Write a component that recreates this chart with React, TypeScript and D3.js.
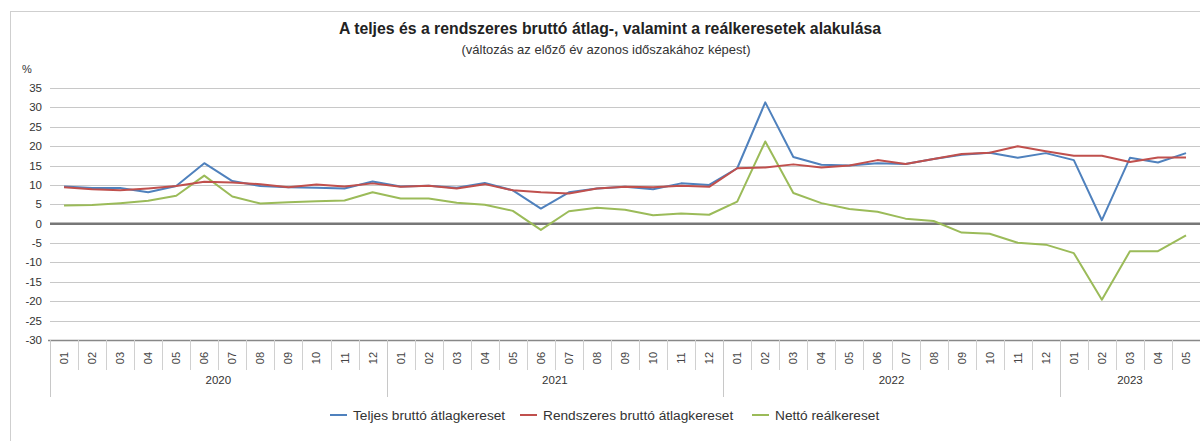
import React, { useEffect, useRef } from 'react'
import * as d3 from 'd3'

const years = ['2020', '2021', '2022', '2023']
const monthsPerYear = [12, 12, 12, 5]
const monthLabels = years.flatMap((y, i) =>
  d3.range(monthsPerYear[i]).map(m => String(m + 1).padStart(2, '0')))

const teljes = [
  9.6, 9.2, 9.2, 8.1, 9.7, 15.6, 11.0, 9.7, 9.4, 9.3, 9.1, 10.9,
  9.6, 9.8, 9.3, 10.5, 8.6, 3.9, 8.1, 9.1, 9.5, 8.9, 10.4, 10.0,
  14.3, 31.3, 17.2, 15.2, 15.0, 15.6, 15.4, 16.7, 17.8, 18.3, 17.0, 18.2,
  16.4, 0.9, 17.0, 15.8, 18.2
]
const rendszeres = [
  9.4, 8.9, 8.6, 9.1, 9.7, 10.8, 10.6, 10.2, 9.4, 10.1, 9.6, 10.4,
  9.5, 9.8, 9.1, 10.2, 8.6, 8.1, 7.8, 9.1, 9.5, 9.4, 9.8, 9.5,
  14.3, 14.5, 15.3, 14.5, 15.0, 16.4, 15.4, 16.7, 18.0, 18.3, 20.0, 18.7,
  17.5, 17.5, 15.9, 17.1, 17.1
]
const netto = [
  4.7, 4.8, 5.3, 5.9, 7.2, 12.4, 7.0, 5.2, 5.5, 5.8, 6.0, 8.1,
  6.5, 6.5, 5.4, 4.9, 3.3, -1.6, 3.2, 4.1, 3.6, 2.2, 2.6, 2.3,
  5.7, 21.2, 7.9, 5.3, 3.8, 3.1, 1.3, 0.7, -2.3, -2.6, -4.9, -5.4,
  -7.6, -19.6, -7.1, -7.1, -3.0
]
const yTicks = d3.range(-30, 36, 5)

const seriesNames = ['Teljes bruttó átlagkereset', 'Rendszeres bruttó átlagkereset', 'Nettó reálkereset']
const seriesColors = ['#4f81bd', '#c0504d', '#9bbb59']

export default function App() {
  const svgRef = useRef<SVGSVGElement>(null)
  const width = 1200
  const height = 441

  useEffect(() => {
    if (!svgRef.current) return
    const svg = d3.select(svgRef.current)
    svg.selectAll('*').remove()

    const font = '"Liberation Sans", Arial, sans-serif'
    const left = 50
    const n = monthLabels.length
    const step = 28.05

    // outer frame
    svg.append('rect')
      .attr('x', 10.5).attr('y', 11.5)
      .attr('width', 1300).attr('height', 500)
      .attr('fill', 'white')
      .attr('stroke', '#cfcfcf')

    // titles
    svg.append('text')
      .attr('x', 610).attr('y', 33.5)
      .attr('text-anchor', 'middle')
      .attr('font-family', font)
      .attr('font-size', '15.8px')
      .attr('font-weight', 'bold')
      .attr('fill', '#222')
      .text('A teljes és a rendszeres bruttó átlag-, valamint a reálkeresetek alakulása')

    svg.append('text')
      .attr('x', 606).attr('y', 53.5)
      .attr('text-anchor', 'middle')
      .attr('font-family', font)
      .attr('font-size', '13px')
      .attr('fill', '#333')
      .text('(változás az előző év azonos időszakához képest)')

    const x = d3.scaleBand<number>()
      .domain(d3.range(n))
      .range([left, left + step * n])

    const y = d3.scaleLinear()
      .domain([-30, 35])
      .range([340, 88])

    // gridlines
    svg.append('g')
      .selectAll('line')
      .data(yTicks.filter(t => t !== 0 && t !== -30))
      .join('line')
      .attr('x1', left).attr('x2', width)
      .attr('y1', d => Math.round(y(d)) + 0.5)
      .attr('y2', d => Math.round(y(d)) + 0.5)
      .attr('stroke', '#c8c8c8')
      .attr('stroke-width', 1)

    // y labels
    svg.append('g')
      .selectAll('text')
      .data(yTicks)
      .join('text')
      .attr('x', 42)
      .attr('y', d => y(d) + 4)
      .attr('text-anchor', 'end')
      .attr('font-family', font)
      .attr('font-size', '11.5px')
      .attr('fill', '#333')
      .text(d => d)

    svg.append('text')
      .attr('x', 22).attr('y', 73)
      .attr('font-family', font)
      .attr('font-size', '11px')
      .attr('fill', '#333')
      .text('%')

    // bottom axis line
    svg.append('line')
      .attr('x1', left - 2).attr('x2', width)
      .attr('y1', y(-30) + 0.5).attr('y2', y(-30) + 0.5)
      .attr('stroke', '#888')
      .attr('stroke-width', 1.5)

    // category axis: month separators
    const axisTop = y(-30)
    svg.append('g')
      .selectAll('line')
      .data(d3.range(n + 1))
      .join('line')
      .attr('x1', i => Math.round(left + step * i) + 0.5)
      .attr('x2', i => Math.round(left + step * i) + 0.5)
      .attr('y1', axisTop)
      .attr('y2', axisTop + 30)
      .attr('stroke', '#d0d0d0')

    svg.append('g')
      .selectAll('text')
      .data(monthLabels)
      .join('text')
      .attr('transform', (d, i) => `translate(${x(i)! + x.bandwidth() / 2 + 4},${axisTop + 18}) rotate(-90)`)
      .attr('text-anchor', 'middle')
      .attr('font-family', font)
      .attr('font-size', '11px')
      .attr('fill', '#444')
      .text(d => d)

    // year groups
    const yearStarts = monthsPerYear.map((c, i) => d3.sum(monthsPerYear.slice(0, i)))
    svg.append('g')
      .selectAll('line')
      .data([...yearStarts, n])
      .join('line')
      .attr('x1', i => Math.round(left + step * i) + 0.5)
      .attr('x2', i => Math.round(left + step * i) + 0.5)
      .attr('y1', axisTop)
      .attr('y2', axisTop + 57)
      .attr('stroke', '#c8c8c8')

    svg.append('g')
      .selectAll('text')
      .data(years)
      .join('text')
      .attr('x', (d, i) => left + step * (yearStarts[i] + monthsPerYear[i] / 2))
      .attr('y', axisTop + 44)
      .attr('text-anchor', 'middle')
      .attr('font-family', font)
      .attr('font-size', '11.5px')
      .attr('fill', '#333')
      .text(d => d)

    // zero line
    svg.append('line')
      .attr('x1', left).attr('x2', width)
      .attr('y1', y(0)).attr('y2', y(0))
      .attr('stroke', '#777')
      .attr('stroke-width', 2.5)

    // lines
    const line = d3.line<number>()
      .x((d, i) => x(i)! + x.bandwidth() / 2)
      .y(d => y(d))

    const allSeries = [teljes, rendszeres, netto]
    const drawOrder = [2, 0, 1]
    drawOrder.forEach(k => {
      svg.append('path')
        .datum(allSeries[k])
        .attr('d', line)
        .attr('fill', 'none')
        .attr('stroke', seriesColors[k])
        .attr('stroke-width', 2)
        .attr('stroke-linejoin', 'round')
    })

    // legend
    const legendX = [330, 520, 752]
    const legend = svg.append('g')
    seriesNames.forEach((name, i) => {
      legend.append('line')
        .attr('x1', legendX[i]).attr('x2', legendX[i] + 17)
        .attr('y1', 415).attr('y2', 415)
        .attr('stroke', seriesColors[i])
        .attr('stroke-width', 2)
      legend.append('text')
        .attr('x', legendX[i] + 23)
        .attr('y', 420)
        .attr('font-family', font)
        .attr('font-size', '13.7px')
        .attr('fill', '#333')
        .text(name)
    })
  }, [])

  return (
    <div style={{ position: 'absolute', left: 0, top: 0 }}>
      <svg ref={svgRef} width={width} height={height} style={{ display: 'block' }} />
    </div>
  )
}
